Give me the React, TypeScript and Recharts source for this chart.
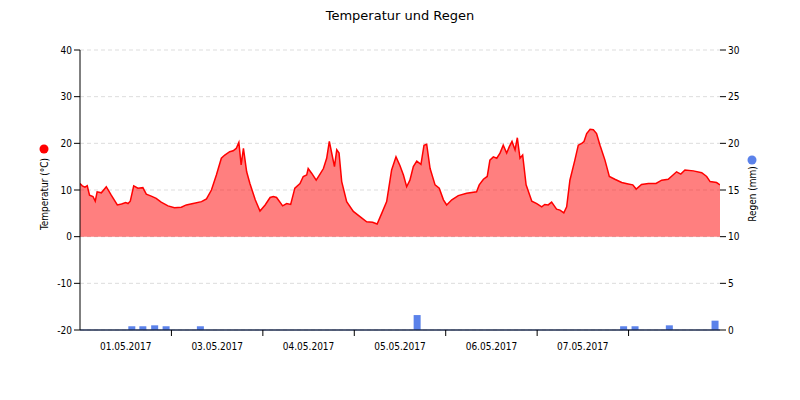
import React from 'react';
import {
  ComposedChart,
  Area,
  Bar,
  XAxis,
  YAxis,
  CartesianGrid,
  ReferenceLine,
} from 'recharts';

// hours since start of the series, temperature in °C
const tempHours = [
  0, 0.6, 1.3, 1.9, 2.5, 3.4, 4.0, 4.5, 5.6, 6.9, 8.2, 9.8, 10.9, 12.0, 12.6, 13.2,
  14.1, 15.2, 16.5, 17.4, 18.7, 20.0, 21.3, 23.1, 24.8, 26.6, 27.9, 29.7, 31.9, 33.2,
  34.5, 35.8, 37.1, 38.0, 39.3, 40.2, 41.0, 41.7, 42.3, 42.9, 43.75, 44.6, 46.0, 47.25,
  48.6, 49.9, 50.75, 51.6, 53.2, 54.25, 55.3, 56.4, 57.75, 58.6, 59.5, 59.9, 60.8, 62.0,
  63.0, 63.9, 64.75, 65.45, 66.0, 66.8, 67.4, 68.0, 68.7, 70.0, 71.75, 73.5, 75.25, 76.8,
  78.0, 79.2, 80.5, 81.8, 82.95, 84.0, 84.9, 85.75, 86.6, 87.5, 88.4, 89.5, 90.3, 91.0,
  91.9, 93.2, 94.3, 95.4, 96.25, 97.6, 99.3, 101.5, 104.1, 104.8, 105.9, 106.9, 107.6,
  108.5, 109.4, 110.25, 111.1, 112.0, 112.7, 113.4, 114.2, 114.8, 115.5, 116.2, 117.1,
  118.6, 119.9, 121.2, 122.0, 122.9, 123.8, 125.1, 126.0, 127.0, 127.75, 128.6, 129.9,
  130.8, 131.7, 132.3, 133.0, 133.9, 134.75, 135.6, 136.5, 137.8, 138.95, 140.4, 142.2,
  143.9, 145.1, 146.0, 147.4, 149.2, 151.2, 152.7, 154.4, 156.6, 157.7, 158.8, 161.0,
  163.2, 164.5, 165.4, 167.1, 168.0,
];
const tempValues = [
  11.4, 10.9, 10.6, 10.9, 8.9, 8.6, 7.6, 9.6, 9.4, 10.7, 8.9, 6.8, 7.0, 7.3, 7.1, 7.6,
  10.9, 10.4, 10.5, 9.1, 8.7, 8.2, 7.4, 6.6, 6.2, 6.3, 6.8, 7.1, 7.5, 8.1,
  10.0, 13.2, 16.8, 17.5, 18.2, 18.4, 18.9, 20.2, 15.4, 18.9, 13.9, 11.4, 7.9, 5.5,
  6.8, 8.4, 8.6, 8.4, 6.6, 7.1, 6.9, 10.4, 11.4, 12.9, 13.2, 14.6, 13.6, 12.1,
  13.4, 14.6, 16.8, 20.4, 18.2, 15.0, 18.6, 17.9, 11.8, 7.5, 5.4, 4.3, 3.2, 3.1,
  2.7, 5.0, 7.5, 14.3, 17.1, 15.2, 13.2, 10.7, 12.1, 15.0, 16.2, 15.5, 19.6, 19.8,
  14.6, 11.1, 10.4, 7.9, 6.8, 7.9, 8.8, 9.3, 9.6, 11.1, 12.3, 12.9, 16.4,
  17.1, 16.8, 17.9, 19.6, 17.9, 19.3, 20.4, 18.6, 21.2, 16.8, 17.5, 11.1,
  7.6, 7.1, 6.4, 6.9, 6.8, 7.4, 5.9, 5.7, 5.1, 6.4, 12.1, 16.4,
  19.6, 20.0, 20.4, 22.1, 23.0, 22.9, 22.1, 19.6, 16.4, 12.9, 12.3, 11.6,
  11.3, 11.1, 10.2, 11.2, 11.4, 11.4, 12.1, 12.3, 13.9, 13.4, 14.3, 14.1,
  13.7, 12.9, 11.8, 11.6, 11.1,
];

// rain in mm
const rainHours = [13.6, 16.5, 19.6, 22.6, 31.6, 88.5, 142.7, 145.7, 154.7, 166.7];
const rainValues = [0.4, 0.4, 0.5, 0.4, 0.4, 1.6, 0.4, 0.4, 0.5, 1.0];

const dayLabels = ['01.05.2017', '03.05.2017', '04.05.2017', '05.05.2017', '06.05.2017', '07.05.2017'];
const xTicks = [12, 24, 36, 48, 60, 72, 84, 96, 108, 120, 132, 144];

const tempTicks = [-20, -10, 0, 10, 20, 30, 40];
const rainTicks = [0, 5, 10, 15, 20, 25, 30];

const FONT = '"DejaVu Sans Condensed", "DejaVu Sans", sans-serif';
const TITLE_FONT = '"DejaVu Sans", Verdana, sans-serif';
const RED = '#ff0000';
const BLUE = '#5b82ea';
const BAR_WIDTH = 7;

type Row = { h: number; temp?: number; rain?: number };

const data: Row[] = [
  ...tempHours.map((h, i) => ({ h, temp: tempValues[i] })),
  ...rainHours.map((h, i) => ({ h, rain: rainValues[i] })),
].sort((a, b) => a.h - b.h);

const DayTick = (props: any) => {
  const { x, y, payload } = props;
  const v = payload.value;
  if (v % 24 === 0) {
    return <line x1={x} x2={x} y1={y} y2={y + 6} stroke="#000" />;
  }
  return (
    <text x={x} y={y + 20} textAnchor="middle" fontSize={10} fontFamily={FONT} fill="#000">
      {dayLabels[Math.floor(v / 24)]}
    </text>
  );
};

// bars on a numeric axis come out very thin, so widen them around their centre
const RainBar = (props: any) => {
  const { x, y, width, height } = props;
  if (!height || height <= 0) return null;
  const cx = x + width / 2;
  return <rect x={cx - BAR_WIDTH / 2} y={y} width={BAR_WIDTH} height={height} fill={BLUE} />;
};

const AxisLabel = ({
  cx,
  cy,
  dotGap,
  text,
  color,
}: {
  cx: number;
  cy: number;
  dotGap: number;
  text: string;
  color: string;
}) => (
  <g>
    <circle cx={cx} cy={cy - dotGap} r={4.5} fill={color} />
    <text
      x={cx}
      y={cy}
      transform={`rotate(-90, ${cx}, ${cy})`}
      textAnchor="middle"
      dominantBaseline="central"
      fontSize={10}
      fontFamily={FONT}
      fill="#000"
    >
      {text}
    </text>
  </g>
);

export default function App() {
  return (
    <div style={{ position: 'absolute', left: 0, top: 0, width: 800, height: 400, background: '#fff' }}>
      <div
        style={{
          position: 'absolute',
          top: 8,
          width: 800,
          textAlign: 'center',
          fontFamily: TITLE_FONT,
          fontSize: 13,
          color: '#000',
        }}
      >
        Temperatur und Regen
      </div>
      <ComposedChart
        width={800}
        height={400}
        data={data}
        margin={{ top: 50, right: 40, bottom: 40, left: 40 }}
      >
        <CartesianGrid yAxisId="left" vertical={false} stroke="#dddddd" strokeDasharray="4 3" />
        <XAxis
          dataKey="h"
          type="number"
          domain={[0, 168]}
          ticks={xTicks}
          interval={0}
          tick={<DayTick />}
          tickLine={false}
          tickSize={0}
          tickMargin={0}
          height={30}
          axisLine={{ stroke: '#000' }}
          allowDataOverflow
        />
        <YAxis
          yAxisId="left"
          width={40}
          domain={[-20, 40]}
          ticks={tempTicks}
          interval={0}
          axisLine={{ stroke: '#000' }}
          tickLine={{ stroke: '#000' }}
          tick={{ fontSize: 10, fontFamily: FONT, fill: '#000' }}
          label={(p: any) => (
            <AxisLabel cx={p.viewBox.x + 4} cy={194} dotGap={45} text="Temperatur (°C)" color={RED} />
          )}
        />
        <YAxis
          yAxisId="right"
          orientation="right"
          width={40}
          domain={[0, 30]}
          ticks={rainTicks}
          interval={0}
          axisLine={false}
          tickLine={{ stroke: '#000' }}
          tick={{ fontSize: 10, fontFamily: FONT, fill: '#000', textAnchor: 'start' }}
          label={(p: any) => (
            <AxisLabel cx={p.viewBox.x + 32} cy={194} dotGap={34} text="Regen (mm)" color={BLUE} />
          )}
        />
        <Area
          yAxisId="left"
          dataKey="temp"
          type="linear"
          stroke={RED}
          strokeWidth={1.5}
          fill={RED}
          fillOpacity={0.5}
          connectNulls
          dot={false}
          activeDot={false}
          isAnimationActive={false}
        />
        <Bar
          yAxisId="right"
          dataKey="rain"
          fill={BLUE}
          shape={<RainBar />}
          isAnimationActive={false}
        />
        <ReferenceLine yAxisId="right" y={0} stroke={BLUE} strokeWidth={1} />
      </ComposedChart>
    </div>
  );
}
